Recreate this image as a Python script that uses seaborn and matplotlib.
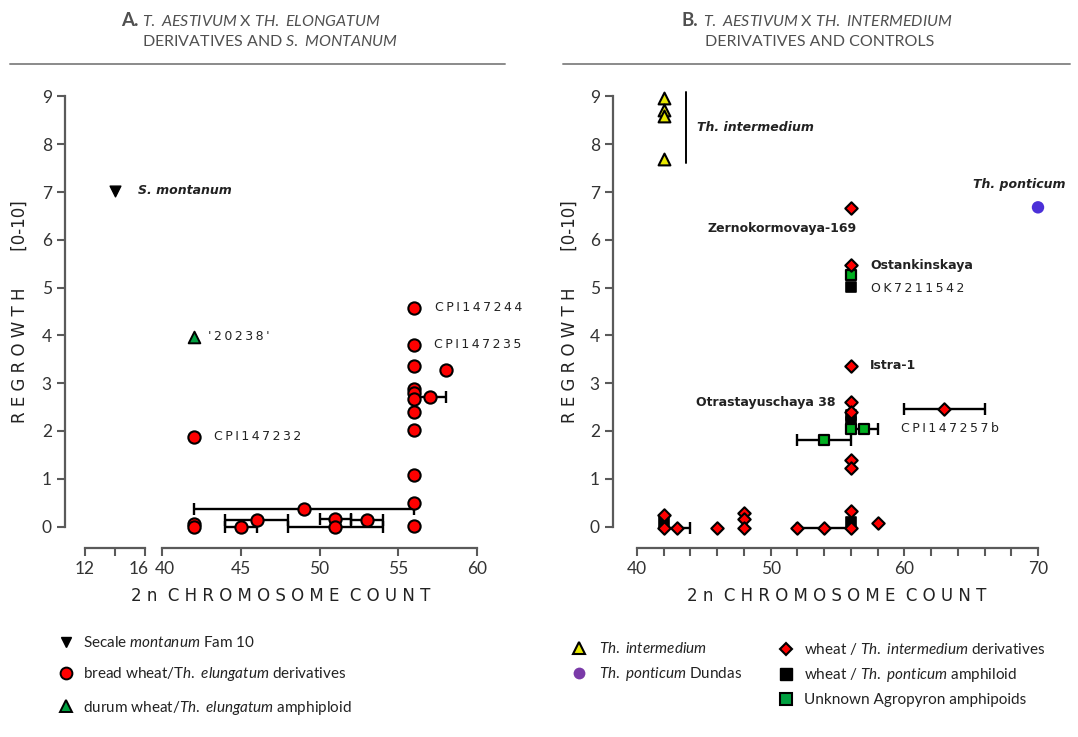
import matplotlib
matplotlib.use("Agg")
import matplotlib.pyplot as plt
import matplotlib.transforms as mtransforms
from matplotlib.lines import Line2D
import numpy as np
import pandas as pd
import seaborn as sns

# ---------------- data: panel A ----------------
a_bread_x = [42, 56, 56, 56, 58, 56, 56, 56, 57, 56, 56, 56, 56, 56, 49, 46, 45, 51, 51, 53, 42, 42]
a_bread_y = [1.88, 4.58, 3.80, 3.35, 3.27, 2.87, 2.79, 2.66, 2.71, 2.40, 2.02, 1.07, 0.50, 0.02,
             0.36, 0.13, 0.00, 0.16, 0.00, 0.13, 0.06, 0.00]
a_bread_xerr = [0, 0, 0, 0, 0, 0, 0, 0, 1, 0, 0, 0, 0, 0, 7, 2, 1, 1, 3, 1, 0, 0]
a_durum_x = [42]
a_durum_y = [3.97]
a_secale_x = [14]
a_secale_y = [7.03]

# ---------------- data: panel B ----------------
b_inter_x = [42, 42, 42, 42]
b_inter_y = [8.96, 8.71, 8.59, 7.69]
b_pont_x = [70]
b_pont_y = [6.68]
b_deriv_x = [56, 56, 56, 56, 56, 63, 56, 56, 42, 42, 43, 46, 48, 48, 48, 52, 54, 56, 56, 58]
b_deriv_y = [6.66, 5.47, 3.36, 2.60, 2.40, 2.45, 1.40, 1.23, 0.25, -0.03, -0.03, -0.03,
             0.28, 0.16, -0.03, -0.03, -0.03, 0.33, -0.03, 0.07]
b_deriv_xerr = [0, 0, 0, 0, 0, 3, 0, 0, 0, 0, 1, 0, 0, 0, 0, 0, 2, 0, 0, 0]
b_amph_x = [56, 56, 56, 42, 56]
b_amph_y = [5.01, 2.33, 2.18, 0.10, 0.10]
b_agro_x = [56, 56, 57, 54]
b_agro_y = [5.26, 2.04, 2.04, 1.82]
b_agro_xerr = [0, 0, 1, 2]

# point labels: (text, x, y, dx_px, dy_px, ha, weight, style, letter-spaced)
a_labels = [
    ("S. montanum", 14, 7.03, 23, 0, "left", "bold", "italic", False),
    ("'20238'", 42, 3.97, 14, 0, "left", "normal", "normal", True),
    ("CPI147232", 42, 1.88, 21, 0, "left", "normal", "normal", True),
    ("CPI147244", 56, 4.58, 21, 0, "left", "normal", "normal", True),
    ("CPI147235", 56, 3.80, 20, 0, "left", "normal", "normal", True),
]
b_labels = [
    ("Th. ponticum", 70, 6.68, -19, 23, "center", "bold", "italic", False),
    ("Zernokormovaya-169", 56, 6.66, 6, -20, "right", "bold", "normal", False),
    ("Ostankinskaya", 56, 5.47, 20, 0, "left", "bold", "normal", False),
    ("OK7211542", 56, 5.01, 20, -1, "left", "normal", "normal", True),
    ("Istra-1", 56, 3.36, 19, 0, "left", "bold", "normal", False),
    ("Otrastayuschaya 38", 56, 2.60, -15, 0, "right", "bold", "normal", False),
    ("CPI147257b", 63, 2.45, -43, -19, "left", "normal", "normal", True),
]

# ---------------- style ----------------
W, H = 1078, 737
sns.set_style("ticks")
plt.rcParams.update({
    "font.family": ["DejaVu Sans"],
    "mathtext.fontset": "custom",
    "mathtext.rm": "Lato",
    "mathtext.it": "Lato:italic",
    "mathtext.bf": "Lato:bold",
})
SPINE = "#5a5a5a"
TXT = "#222222"

fig = plt.figure(figsize=(W / 100, H / 100), dpi=100)


def fx(px):
    return px / W


def fy(py):
    return 1 - py / H


Y0_PX, PX_PER_Y = 526.5, 47.78
AX_TOP, AX_BOT = 80, 548
YLIM = (-(AX_BOT - Y0_PX) / PX_PER_Y, (Y0_PX - AX_TOP) / PX_PER_Y)


def make_ax(left_px, right_px, ref_val, ref_px, ppx):
    ax = fig.add_axes([fx(left_px), fy(AX_BOT), (right_px - left_px) / W, (AX_BOT - AX_TOP) / H])
    ax.set_xlim(ref_val - (ref_px - left_px) / ppx, ref_val + (right_px - ref_px) / ppx)
    return ax


axAL = make_ax(65, 150, 12, 85, 15.0)
axAM = make_ax(150, 490, 40, 162, 15.75)
axB = make_ax(613, 1050, 40, 637, 401 / 30)


def scatter(ax, xs, ys, marker, fc, ec, s, lw, z=3):
    df = pd.DataFrame({"x": xs, "y": ys})
    sns.scatterplot(data=df, x="x", y="y", ax=ax, marker=marker, color=fc,
                    edgecolor=ec, s=s, linewidth=lw, zorder=z, legend=False)


def errbars(ax, xs, ys, xerr):
    xs, ys, xerr = np.asarray(xs), np.asarray(ys), np.asarray(xerr)
    m = xerr > 0
    ax.errorbar(xs[m], ys[m], xerr=xerr[m], fmt="none", ecolor="black",
                elinewidth=1.7, capsize=4, capthick=1.7, zorder=2)


# panel A
errbars(axAM, a_bread_x, a_bread_y, a_bread_xerr)
scatter(axAM, a_bread_x, a_bread_y, "o", "#ff0000", "black", 78, 1.5)
scatter(axAM, a_durum_x, a_durum_y, "^", "#00a040", "black", 70, 1.4, z=4)
scatter(axAL, a_secale_x, a_secale_y, "v", "black", "black", 60, 1.0)

# panel B
errbars(axB, b_deriv_x, b_deriv_y, b_deriv_xerr)
errbars(axB, b_agro_x, b_agro_y, b_agro_xerr)
scatter(axB, b_amph_x, b_amph_y, "s", "black", "black", 60, 1.2, z=3)
scatter(axB, b_agro_x, b_agro_y, "s", "#00b020", "black", 60, 1.6, z=4)
scatter(axB, b_deriv_x, b_deriv_y, "D", "#ff0000", "black", 40, 1.5, z=5)
scatter(axB, b_inter_x, b_inter_y, "^", "#e8e800", "black", 72, 1.5, z=5)
scatter(axB, b_pont_x, b_pont_y, "o", "#4b30d8", "none", 80, 0, z=5)

# bracket for Th. intermedium
bx = min(b_inter_x) + 1.64
axB.plot([bx, bx], [min(b_inter_y) - 0.09, max(b_inter_y) + 0.14], color="black", lw=1.4, zorder=2)
axB.annotate("Th. intermedium", (bx, (min(b_inter_y) + max(b_inter_y)) / 2 + 0.03),
             xytext=(11, 0), textcoords="offset pixels", ha="left", va="center",
             fontsize=9, fontweight="bold", fontstyle="italic", color=TXT)


def spaced(s):
    return "\u2009".join(s)


def put_labels(ax, labels):
    for t, x, y, dx, dy, ha, wt, st, sp in labels:
        ax.annotate(spaced(t) if sp else t, (x, y), xytext=(dx, dy), textcoords="offset pixels",
                    ha=ha, va="center", fontsize=9, fontweight=wt, fontstyle=st, color=TXT,
                    annotation_clip=False)


put_labels(axAL, a_labels[:1])
put_labels(axAM, a_labels[1:])
put_labels(axB, b_labels)


def style(ax, xbounds, left=True):
    ax.set_ylim(YLIM)
    ax.set_xlabel("")
    ax.set_ylabel("")
    ax.patch.set_alpha(0)
    for s in ["top", "right"]:
        ax.spines[s].set_visible(False)
    ax.spines["bottom"].set_bounds(*xbounds)
    for s in ["bottom", "left"]:
        ax.spines[s].set_color(SPINE)
        ax.spines[s].set_linewidth(1.6)
    ax.tick_params(which="both", direction="out", length=5.5, width=1.5, color=SPINE,
                   labelsize=12.5, labelcolor="#333333", pad=4)
    if left:
        ax.spines["left"].set_bounds(0, 9)
        ax.set_yticks(range(0, 10))
    else:
        ax.spines["left"].set_visible(False)
        ax.tick_params(axis="y", which="both", left=False, labelleft=False)
    for lab in ax.get_xticklabels() + ax.get_yticklabels():
        lab.set_fontfamily("Lato")


axAL.set_xticks([12, 16])
axAL.set_xticks([14], minor=True)
axAM.set_xticks([40, 45, 50, 55, 60])
axB.set_xticks([40, 50, 60, 70])
axB.set_xticks(np.arange(42, 70, 2), minor=True)
style(axAL, (12, 16))
style(axAM, (40, 60), left=False)
style(axB, (40, 70))

# nudge the broken-axis labels apart
axAL.get_xticklabels()[1].set_transform(
    axAL.get_xticklabels()[1].get_transform() + mtransforms.ScaledTranslation(-6 / 100, 0, fig.dpi_scale_trans))
axAM.get_xticklabels()[0].set_transform(
    axAM.get_xticklabels()[0].get_transform() + mtransforms.ScaledTranslation(3 / 100, 0, fig.dpi_scale_trans))

# axis titles (letter-spaced)
xlab = "  ".join(" ".join(w) for w in ["2n", "CHROMOSOME", "COUNT"])
ylab = " ".join("REGROWTH") + " " * 7 + "[0-10]"
for cx in (281, 837):
    fig.text(fx(cx), fy(596), xlab, ha="center", va="center", fontsize=12, color=TXT)
for cx in (20, 570):
    fig.text(fx(cx), fy(Y0_PX - 4.5 * PX_PER_Y), ylab, ha="center", va="center",
             rotation=90, fontsize=12, color=TXT)

# panel titles
TCOL = "#505050"
TFS = 11.5
fig.text(fx(138), fy(21), "A.", ha="right", va="center", fontsize=13.5, fontweight="bold",
         family="Lato", color=TCOL)
fig.text(fx(142), fy(21), r"$\mathit{T.\ AESTIVUM}$ X $\mathit{TH.\ ELONGATUM}$", ha="left",
         va="center", fontsize=TFS, family="Lato", color=TCOL)
fig.text(fx(142), fy(42), r"DERIVATIVES AND $\mathit{S.\ MONTANUM}$", ha="left",
         va="center", fontsize=TFS, family="Lato", color=TCOL)
fig.text(fx(698), fy(21), "B.", ha="right", va="center", fontsize=13.5, fontweight="bold",
         family="Lato", color=TCOL)
fig.text(fx(703), fy(21), r"$\mathit{T.\ AESTIVUM}$ X $\mathit{TH.\ INTERMEDIUM}$", ha="left",
         va="center", fontsize=TFS, family="Lato", color=TCOL)
fig.text(fx(705), fy(42), "DERIVATIVES AND CONTROLS", ha="left",
         va="center", fontsize=TFS, family="Lato", color=TCOL)
for x0, x1 in ((10, 505), (563, 1070)):
    fig.add_artist(Line2D([fx(x0), fx(x1)], [fy(64), fy(64)], color="#8a8a8a", lw=1.4))

# legends
LEG_FS = 11
leg_prop = {"family": "Lato", "size": LEG_FS}


def mk(marker, fc, ec, ms, mew):
    return Line2D([], [], ls="", marker=marker, markerfacecolor=fc, markeredgecolor=ec,
                  markersize=ms, markeredgewidth=mew)


legA = fig.legend(
    [mk("v", "black", "black", 7.5, 1.0), mk("o", "#ff0000", "black", 8.5, 1.4),
     mk("^", "#00a040", "black", 8.5, 1.4)],
    [r"Secale $\mathit{montanum}$ Fam 10", r"bread wheat/T$\mathit{h.\ elungatum}$ derivatives",
     r"durum wheat/$\mathit{Th.\ elungatum}$ amphiploid"],
    loc="upper left", bbox_to_anchor=(fx(59), fy(635)), frameon=False, prop=leg_prop,
    handlelength=0.95, handletextpad=0.65, labelspacing=1.0, borderpad=0, borderaxespad=0)

legB1 = fig.legend(
    [mk("^", "#e8e800", "black", 8.5, 1.5), mk("o", "#7a3aa8", "none", 8.5, 0)],
    [r"$\mathit{Th.\ intermedium}$", r"$\mathit{Th.\ ponticum}$ Dundas"],
    loc="upper left", bbox_to_anchor=(fx(572), fy(641)), frameon=False, prop=leg_prop,
    handlelength=0.95, handletextpad=0.8, labelspacing=0.6, borderpad=0, borderaxespad=0)

legB2 = fig.legend(
    [mk("D", "#ff0000", "black", 6.0, 1.5), mk("s", "black", "black", 8.0, 1.0),
     mk("s", "#00a040", "black", 8.0, 1.5)],
    [r"wheat / $\mathit{Th.\ intermedium}$ derivatives", r"wheat / $\mathit{Th.\ ponticum}$ amphiloid",
     "Unknown Agropyron amphipoids"],
    loc="upper left", bbox_to_anchor=(fx(779), fy(641)), frameon=False, prop=leg_prop,
    handlelength=0.95, handletextpad=0.7, labelspacing=0.6, borderpad=0, borderaxespad=0)

for lg in (legA, legB1, legB2):
    for t in lg.get_texts():
        t.set_color(TXT)

fig.savefig("out.png", dpi=100)
